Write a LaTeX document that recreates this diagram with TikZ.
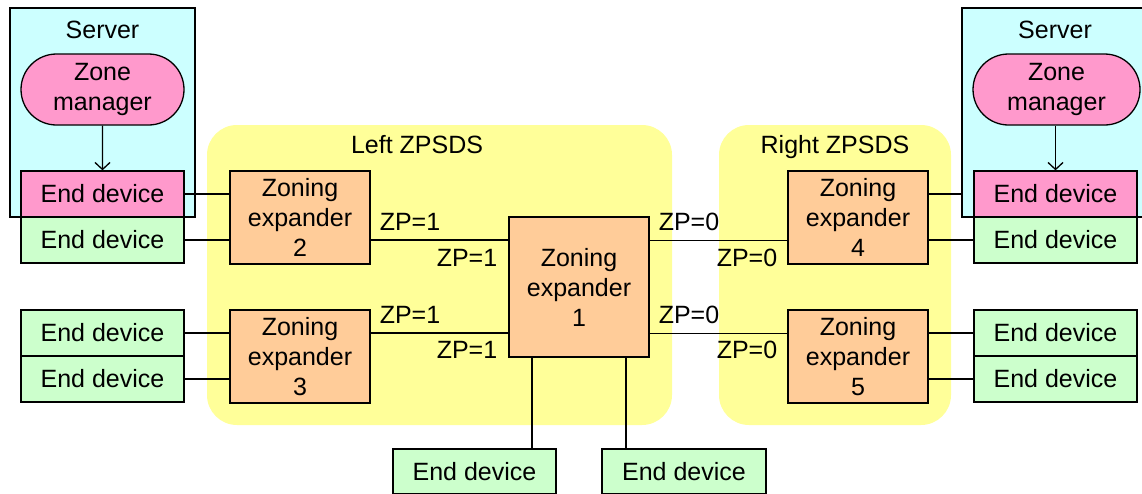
\documentclass[tikz,border=0pt]{standalone}
\usepackage{fontspec}
\setmainfont{Liberation Sans}
\usetikzlibrary{arrows.meta,shapes.misc}
\definecolor{servercyan}{HTML}{CCFFFF}
\definecolor{mgrpink}{HTML}{FF99CC}
\definecolor{devgreen}{HTML}{CCFFCC}
\definecolor{zeorange}{HTML}{FFCC99}
\definecolor{zoneyellow}{HTML}{FFFF99}
\begin{document}
\begin{tikzpicture}[x=1pt,y=-1pt,
  font=\fontsize{25}{30}\selectfont,
  box/.style={draw=black, line width=1.3pt, inner sep=0pt, align=center},
  edbox/.style={box, fill=devgreen, minimum width=163pt, minimum height=46pt},
  pinkdev/.style={edbox, fill=mgrpink},
  zebox/.style={box, fill=zeorange, minimum width=140pt, minimum height=93pt},
  serverbox/.style={box, fill=servercyan, minimum height=209pt},
  mgrbox/.style={box, fill=mgrpink, rounded rectangle, minimum height=71pt},
  region/.style={fill=zoneyellow, rounded corners=30pt, inner sep=0pt, minimum height=300pt},
  wire/.style={line width=1.3pt},
  lbl/.style={inner sep=0pt, anchor=base}]
\clip (0,0) rectangle (1142,493);
\fill[white] (0,0) rectangle (1142,493);
% regions
\node[region, minimum width=465pt] (regL) at (439.5,275) {};
\node[region, minimum width=232pt] (regR) at (835,275) {};
\node[lbl] (regLt) at (417,153) {Left ZPSDS};
\node[lbl] (regRt) at (835,153) {Right ZPSDS};
% servers
\node[serverbox, minimum width=185pt] (srvL) at (102.5,112.5) {};
\node[serverbox, minimum width=192pt] (srvR) at (1058,112.5) {};
\node[lbl] (srvLt) at (102.5,38) {Server};
\node[lbl] (srvRt) at (1055,38) {Server};
\node[mgrbox, minimum width=163pt] (zmL) at (102.5,89.5) {Zone\\manager};
\node[mgrbox, minimum width=167pt] (zmR) at (1056.5,89.5) {Zone\\manager};
% end devices
\node[pinkdev] (edL1) at (102.5,194) {End device};
\node[edbox] (edL2) at (102.5,240) {End device};
\node[edbox] (edL3) at (102.5,333) {End device};
\node[edbox] (edL4) at (102.5,379) {End device};
\node[pinkdev] (edR1) at (1055.5,194) {End device};
\node[edbox] (edR2) at (1055.5,240) {End device};
\node[edbox] (edR3) at (1055.5,333) {End device};
\node[edbox] (edR4) at (1055.5,379) {End device};
\node[edbox, minimum height=45pt] (bd1) at (474.5,471.5) {End device};
\node[edbox, minimum width=164pt, minimum height=45pt] (bd2) at (684,471.5) {End device};
% zoning expanders
\node[zebox] (ze2) at (300,217.5) {Zoning\\expander\\2};
\node[zebox] (ze3) at (300,356.5) {Zoning\\expander\\3};
\node[zebox, minimum height=140pt] (ze1) at (579,287) {Zoning\\expander\\1};
\node[zebox] (ze4) at (858,217.5) {Zoning\\expander\\4};
\node[zebox] (ze5) at (858,356.5) {Zoning\\expander\\5};
% connectors
\draw[wire, -{Straight Barb[length=7pt,width=15pt]}] (zmL) -- (edL1);
\draw[wire, -{Straight Barb[length=7pt,width=15pt]}] (zmR.south -| edR1) -- (edR1);
\draw[wire] (edL1.east) -- (ze2.west |- edL1.east);
\draw[wire] (edL2.east) -- (ze2.west |- edL2.east);
\draw[wire] (edL3.east) -- (ze3.west |- edL3.east);
\draw[wire] (edL4.east) -- (ze3.west |- edL4.east);
\draw[wire] (ze2.east |- edL2) -- (ze1.west |- edL2);
\draw[wire] (ze3.east |- edL3) -- (ze1.west |- edL3);
\draw[line width=1pt] (ze1.east |- edR2) -- (ze4.west |- edR2);
\draw[line width=1pt] (ze1.east |- edR3) -- (ze5.west |- edR3);
\draw[wire] (ze4.east |- edR1) -- (srvR.west |- edR1);
\draw[wire] (ze4.east |- edR2) -- (edR2.west);
\draw[wire] (ze5.east |- edR3) -- (edR3.west);
\draw[wire] (ze5.east |- edR4) -- (edR4.west);
\draw[wire] ([xshift=-47pt]ze1.south) -- ([xshift=-47pt]ze1.south |- bd1.north);
\draw[wire] ([xshift=47pt]ze1.south) -- ([xshift=47pt]ze1.south |- bd2.north);
% ZP labels
\node[lbl] (zpa) at (410,230) {ZP=1};
\node[lbl] (zpb) at (467,266) {ZP=1};
\node[lbl] (zpc) at (410,323) {ZP=1};
\node[lbl] (zpd) at (467,358) {ZP=1};
\node[lbl] (zpe) at (689,230) {ZP=0};
\node[lbl] (zpf) at (747,266) {ZP=0};
\node[lbl] (zpg) at (689,323) {ZP=0};
\node[lbl] (zph) at (747,358) {ZP=0};
\end{tikzpicture}
\end{document}
